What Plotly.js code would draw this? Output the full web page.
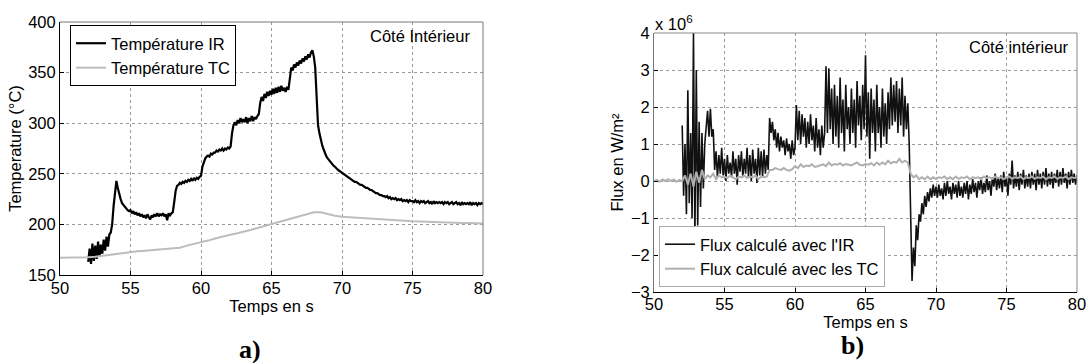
<!DOCTYPE html>
<html>
<head>
<meta charset="utf-8">
<script src="https://cdn.plot.ly/plotly-3.0.1.min.js"></script>
<style>html,body{margin:0;padding:0;background:#fff;}#chart{width:1088px;height:363px;}</style>
</head>
<body>
<div id="chart"></div>
<script>
// ---------- DATA ----------
// a) Temperatures (°C)
const tempIR_t0 = 52.0, tempIR_dt = 0.1;   // s
const tempIR = [
  163,176,161,181,164,179,166,183,168,180,   // 52
  171,185,174,188,178,190,192,200,218,235,   // 53
  243,236,229,225,221,219,217,215,214,213,   // 54
  214,211,213,210,212,209,211,208,210,207,   // 55
  209,206,210,207,205,209,207,210,208,211,   // 56
  208,210,209,211,208,210,204,211,209,211,   // 57
  212,222,233,238,239,241,240,242,241,243,   // 58
  242,244,243,245,243,246,244,246,245,247,   // 59
  248,257,262,265,267,268,267,270,269,271,   // 60
  271,273,272,274,273,275,273,275,274,276,   // 61
  275,277,290,298,301,298,303,300,305,301,   // 62
  304,301,306,300,305,302,307,302,306,304,   // 63
  307,309,320,326,322,329,325,331,327,332,   // 64
  328,334,329,335,330,336,331,337,332,335,   // 65
  331,336,333,348,355,352,358,355,360,357,   // 66
  362,359,364,361,366,363,368,365,370,372,   // 67
  366,355,330,298,290,283,278,274,270,267,   // 68
  265,263,261,260,258,257,255,254,253,252,   // 69
  251,250,249,248,247,246,245,244,243,242,   // 70
  242,241,240,239,239,238,237,236,236,235,   // 71
  234,234,233,232,231,231,230,229,229,228,   // 72
  228,227,228,226,227,225,226,225,226,224,   // 73
  225,224,225,223,224,223,224,222,224,223,   // 74
  223,222,224,222,223,221,223,222,223,221,   // 75
  222,223,221,222,220,223,221,222,221,222,   // 76
  221,222,220,222,221,222,220,221,222,220,   // 77
  221,222,220,221,219,222,220,221,220,221,   // 78
  220,222,219,221,220,221,219,221,220,221,   // 79
  220                                        // 80
];
const tempTC_t0 = 50.0, tempTC_dt = 0.5;
const tempTC = [
  167,167,167,167,167.5,168,169,170,171,172,      // 50-54.5
  173,173.5,174,174.5,175,175.5,176,177,179,180.5,// 55-59.5
  182,184,186,188,189.5,191,192.5,194.5,196.5,198.5, // 60-64.5
  200,202,204,206,208,210,212,212,210,208.5,      // 65-69.5
  207.5,207,206.5,206,205.5,205,204.5,204,204,203.5, // 70-74.5
  203,202.8,202.5,202.3,202,202,201.8,201.5,201.5,201.3, // 75-79.5
  201                                            // 80
];

// b) Heat flux (units of 1e6 W/m²)
const fluxIR_t0 = 52.0, fluxIR_dt = 0.1;
const fluxIR = [
  1.5,-0.4,1.0,-0.9,2.45,-0.6,1.3,-1.0,4.0,-1.6,      // 52
  3.0,-1.2,1.6,-0.7,1.3,-0.2,1.0,1.5,1.9,1.2,         // 53
  1.95,1.2,1.4,0.3,0.8,0.1,0.7,0.2,0.9,0.15,          // 54
  0.6,0.0,0.7,0.2,0.5,0.1,0.8,0.2,0.6,-0.1,           // 55
  0.7,0.25,0.8,0.1,0.6,0.2,0.9,0.1,0.7,0.0,           // 56
  0.85,0.2,0.6,-0.05,0.9,0.15,0.8,0.1,0.85,0.2,       // 57
  0.7,0.3,1.7,1.3,1.6,1.1,1.4,0.9,1.3,0.8,            // 58
  1.2,0.9,1.1,0.7,1.15,0.8,1.0,0.6,1.1,0.7,           // 59
  0.9,2.05,1.1,1.9,1.0,1.8,1.2,1.7,0.9,1.6,           // 60
  1.0,1.8,1.1,1.5,0.8,1.7,0.9,1.4,0.7,1.5,            // 61
  0.9,1.3,3.1,1.3,3.05,1.4,2.5,1.0,2.6,1.2,           // 62
  2.3,0.9,2.8,1.3,2.2,0.8,2.6,1.4,2.0,1.0,            // 63
  2.5,1.3,2.2,0.9,2.7,1.5,2.3,1.1,2.6,1.4,            // 64
  3.4,1.2,2.4,0.6,2.5,1.3,2.2,0.8,2.6,1.3,            // 65
  2.0,0.9,2.5,1.2,2.1,1.0,2.4,1.4,2.8,1.5,            // 66
  2.6,1.6,2.7,1.3,2.5,1.5,2.8,1.2,2.3,1.4,            // 67
  2.1,1.0,-1.5,-2.7,-1.8,-2.3,-1.2,-1.6,-0.9,-1.1,    // 68
  -0.6,-0.9,-0.4,-0.7,-0.3,-0.55,-0.2,-0.45,-0.1,-0.4, // 69
  -0.15,-0.45,-0.1,-0.4,-0.2,-0.5,-0.05,-0.4,0.0,-0.35, // 70
  -0.15,-0.5,-0.05,-0.35,-0.1,-0.45,0.0,-0.4,-0.15,-0.45, // 71
  -0.05,-0.35,0.0,-0.5,-0.1,-0.35,0.05,-0.3,-0.05,-0.45,  // 72
  0.0,-0.25,0.1,-0.35,-0.05,-0.3,0.15,-0.25,0.0,-0.4,     // 73
  0.1,-0.15,0.2,-0.25,0.1,-0.2,0.15,-0.3,0.25,-0.15,      // 74
  0.1,-0.4,0.2,-0.1,0.55,-0.2,0.15,-0.15,0.25,-0.25,      // 75
  0.2,-0.1,0.3,-0.2,0.15,-0.15,0.2,-0.2,0.25,-0.1,        // 76
  0.2,-0.25,0.3,-0.1,0.2,-0.2,0.25,-0.1,0.35,-0.15,       // 77
  0.2,-0.1,0.25,-0.2,0.2,-0.05,0.3,-0.15,0.25,-0.1,       // 78
  0.35,-0.05,0.2,-0.2,0.25,-0.1,0.3,-0.05,0.2,-0.1,       // 79
  0.15                                                    // 80
];
const fluxTC_t0 = 50.0, fluxTC_dt = 0.2;
const fluxTC = [
  0.0,0.03,-0.02,0.04,0.0,    0.05,0.0,0.04,-0.02,0.03,   // 50-51
  0.0,0.15,-0.1,0.2,-0.15,    0.25,-0.05,0.3,0.05,0.15,   // 52-53
  0.1,0.2,0.05,0.15,0.1,      0.12,0.08,0.15,0.1,0.05,    // 54-55
  0.12,0.1,0.15,0.08,0.12,    0.1,0.15,0.05,0.12,0.1,     // 56-57
  0.12,0.3,0.3,0.35,0.32,     0.3,0.35,0.3,0.28,0.32,     // 58-59
  0.4,0.35,0.45,0.38,0.42,    0.4,0.45,0.38,0.4,0.42,     // 60-61
  0.45,0.4,0.5,0.42,0.46,     0.44,0.48,0.42,0.46,0.44,   // 62-63
  0.42,0.46,0.5,0.44,0.42,    0.46,0.44,0.48,0.42,0.5,    // 64-65
  0.44,0.5,0.45,0.55,0.48,    0.52,0.5,0.6,0.5,0.55,      // 66-67
  0.5,0.2,0.1,0.15,0.05,      0.1,0.05,0.12,0.05,0.1,     // 68-69
  0.05,0.1,0.08,0.12,0.05,    0.1,0.05,0.12,0.06,0.1,     // 70-71
  0.08,0.12,0.05,0.1,0.08,    0.1,0.05,0.12,0.08,0.1,     // 72-73
  0.06,0.12,0.08,0.1,0.05,    0.1,0.12,0.06,0.1,0.08,     // 74-75
  0.12,0.05,0.1,0.08,0.12,    0.06,0.1,0.08,0.12,0.05,    // 76-77
  0.1,0.08,0.12,0.06,0.1,     0.08,0.12,0.05,0.1,0.08,    // 78-79
  0.1                                                     // 80
];

const xTicks = [50,55,60,65,70,75,80];
const tempTicks = [150,200,250,300,350,400];
const fluxTicks = [-3,-2,-1,0,1,2,3,4];

// ---------- CHART ----------
const FONT = 'Liberation Sans, Arial, sans-serif';
const FS = 16.5;
const W = 1088, H = 363;
const px = v => v / W, py = v => 1 - v / H;

const traces = [
  {x0: tempIR_t0, dx: tempIR_dt, y: tempIR, type: 'scatter', mode: 'lines',
   name: 'Température IR', line: {color: '#000', width: 2.2}, xaxis: 'x', yaxis: 'y', legend: 'legend'},
  {x0: tempTC_t0, dx: tempTC_dt, y: tempTC, type: 'scatter', mode: 'lines',
   name: 'Température TC', line: {color: '#bdbdbd', width: 2}, xaxis: 'x', yaxis: 'y', legend: 'legend'},
  {x0: fluxIR_t0, dx: fluxIR_dt, y: fluxIR, type: 'scatter', mode: 'lines',
   name: "Flux calculé avec l'IR", line: {color: '#111', width: 1.6}, xaxis: 'x2', yaxis: 'y2', legend: 'legend2'},
  {x0: fluxTC_t0, dx: fluxTC_dt, y: fluxTC, type: 'scatter', mode: 'lines',
   name: 'Flux calculé avec les TC', line: {color: '#b0b0b0', width: 2}, xaxis: 'x2', yaxis: 'y2', legend: 'legend2'}
];

const axisCommon = {
  showgrid: true, gridcolor: '#9a9a9a', griddash: 'dot', gridwidth: 1,
  zeroline: false, showline: true, linewidth: 1,
  ticks: 'inside', ticklen: 4, tickcolor: '#000',
  tickfont: {family: FONT, size: FS, color: '#000'},
  automargin: false, fixedrange: true
};

const layout = {
  width: W, height: H,
  margin: {l: 0, r: 0, t: 0, b: 0},
  paper_bgcolor: '#fff', plot_bgcolor: '#fff',
  font: {family: FONT, size: FS, color: '#000'},
  xaxis: Object.assign({}, axisCommon, {
    domain: [px(60), px(483)], range: [50, 80], tickvals: xTicks, linecolor: '#000',
    ticklabelstandoff: -2,
    anchor: 'y', title: {text: 'Temps en s', standoff: 0, font: {family: FONT, size: FS}}
  }),
  yaxis: Object.assign({}, axisCommon, {
    domain: [py(275), py(22)], range: [150, 400], tickvals: tempTicks, linecolor: '#000',
    anchor: 'x', title: {text: 'Temperature (°C)', standoff: 2, font: {family: FONT, size: FS}}
  }),
  xaxis2: Object.assign({}, axisCommon, {
    domain: [px(654), px(1077)], range: [50, 80], tickvals: xTicks, linecolor: '#000',
    ticklabelstandoff: -3,
    anchor: 'y2', title: {text: 'Temps en s', standoff: 0, font: {family: FONT, size: FS}}
  }),
  yaxis2: Object.assign({}, axisCommon, {
    domain: [py(292), py(33)], range: [-3, 4], tickvals: fluxTicks, linecolor: '#777',
    anchor: 'x2', title: {text: 'Flux en W/m²', standoff: 3, font: {family: FONT, size: FS}}
  }),
  legend: {
    x: px(70), y: py(25), xanchor: 'left', yanchor: 'top', xref: 'paper', yref: 'paper',
    bgcolor: '#fff', bordercolor: '#000', borderwidth: 1,
    font: {family: FONT, size: FS, color: '#000'}, itemwidth: 30, tracegroupgap: 0
  },
  legend2: {
    x: px(659), y: py(287), xanchor: 'left', yanchor: 'bottom', xref: 'paper', yref: 'paper',
    bgcolor: '#fff', bordercolor: '#aaa', borderwidth: 1,
    font: {family: FONT, size: FS, color: '#000'}, itemwidth: 30, tracegroupgap: 0
  },
  shapes: [
    {type: 'line', xref: 'x domain', yref: 'y domain', x0: 0, x1: 1, y0: 1, y1: 1, line: {color: '#777', width: 1}},
    {type: 'line', xref: 'x domain', yref: 'y domain', x0: 1, x1: 1, y0: 0, y1: 1, line: {color: '#777', width: 1}},
    {type: 'line', xref: 'x2 domain', yref: 'y2 domain', x0: 0, x1: 1, y0: 1, y1: 1, line: {color: '#888', width: 1}},
    {type: 'line', xref: 'x2 domain', yref: 'y2 domain', x0: 1, x1: 1, y0: 0, y1: 1, line: {color: '#888', width: 1}}
  ],
  annotations: [
    {text: 'Côté Intérieur', xref: 'paper', yref: 'paper', x: px(472), y: py(36),
     xanchor: 'right', yanchor: 'middle', showarrow: false, font: {family: FONT, size: FS, color: '#000'}},
    {text: 'Côté intérieur', xref: 'paper', yref: 'paper', x: px(1071), y: py(47),
     xanchor: 'right', yanchor: 'middle', showarrow: false, font: {family: FONT, size: FS, color: '#000'}},
    {text: 'x 10<sup>6</sup>', xref: 'paper', yref: 'paper', x: px(653), y: py(23),
     xanchor: 'left', yanchor: 'middle', showarrow: false, font: {family: FONT, size: FS, color: '#000'}},
    {text: '<b>a)</b>', xref: 'paper', yref: 'paper', x: px(250), y: py(349),
     xanchor: 'center', yanchor: 'middle', showarrow: false, font: {family: 'Liberation Serif, Times New Roman, serif', size: 26, color: '#000'}},
    {text: '<b>b)</b>', xref: 'paper', yref: 'paper', x: px(852), y: py(345),
     xanchor: 'center', yanchor: 'middle', showarrow: false, font: {family: 'Liberation Serif, Times New Roman, serif', size: 26, color: '#000'}}
  ]
};

Plotly.newPlot('chart', traces, layout, {displayModeBar: false, staticPlot: true});
</script>
</body>
</html>
